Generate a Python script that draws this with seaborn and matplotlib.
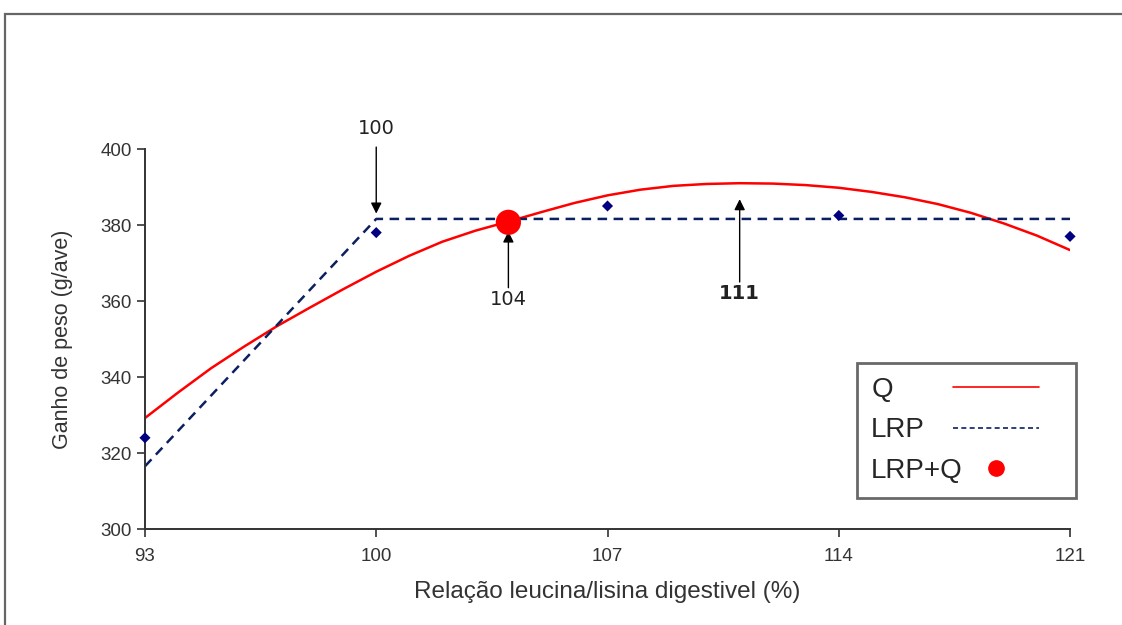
import numpy as np
import pandas as pd
import matplotlib
matplotlib.use("Agg")
import matplotlib.pyplot as plt
from matplotlib.lines import Line2D
from matplotlib.patches import Rectangle
import seaborn as sns

# observed means (diamonds)
obs_x = [93, 100, 107, 114, 121]
obs_y = [324.0, 378.0, 385.0, 382.5, 377.0]

# quadratic fit (Q)
q_x = [93, 94, 95, 96, 97, 98, 99, 100, 101, 102, 103, 104, 105, 106, 107,
       108, 109, 110, 111, 112, 113, 114, 115, 116, 117, 118, 119, 120, 121]
q_y = [329.2, 335.9, 342.3, 348.0, 353.4, 358.3, 363.1, 367.7, 371.9, 375.6,
       378.5, 380.9, 383.4, 385.8, 387.8, 389.3, 390.3, 390.8, 391.0, 390.9,
       390.5, 389.8, 388.7, 387.3, 385.5, 383.2, 380.4, 377.2, 373.4]

# linear response plateau (LRP)
lrp_x = [93, 100, 121]
lrp_y = [316.5, 381.6, 381.6]

# LRP+Q intersection
lq_x = [104]
lq_y = [380.7]

# arrow notes: label, x, tip y, tail y, text y
notes = [("100", 100, 383.0, 400.5, 405.5),
         ("104", 104, 378.3, 363.5, 360.5),
         ("111", 111, 386.8, 365.0, 362.0)]

leg_labels = ["Q", "LRP", "LRP+Q"]

sns.set_theme(style="white")
plt.rcParams["font.family"] = ["Liberation Sans", "DejaVu Sans"]

fig = plt.figure(figsize=(11.22, 6.25), dpi=100)
ax = fig.add_axes([0.1292, 0.1536, 0.8245, 0.608])

# outer frame of the original picture
fig.patches.append(Rectangle((5 / 1122, -0.2), 1.2, 0.2 + 1 - 14 / 625,
                             transform=fig.transFigure, fill=False,
                             edgecolor="#666666", lw=1.6))

navy = "#0a2060"
sns.lineplot(x=q_x, y=q_y, ax=ax, color="red", lw=1.8, label="_q")
sns.lineplot(x=lrp_x, y=lrp_y, ax=ax, color=navy, lw=1.8, label="_lrp",
             sort=False)
ax.lines[-1].set_dashes((3.8, 2.6))
sns.scatterplot(x=obs_x, y=obs_y, ax=ax, marker="D", s=32, color="#000080",
                edgecolor="none", zorder=4, clip_on=False)
sns.scatterplot(x=lq_x, y=lq_y, ax=ax, s=330, color="red", edgecolor="none",
                zorder=5)

for lab, x, tip, tail, ty in notes:
    ax.annotate("", xy=(x, tip), xytext=(x, tail), annotation_clip=False,
                arrowprops=dict(arrowstyle="-|>", color="black", lw=1.0,
                                mutation_scale=16, shrinkA=0, shrinkB=0))
    ax.text(x, ty, lab, ha="center", va="center", fontsize=14,
            family="DejaVu Sans", color="#222222", clip_on=False,
            fontweight="bold" if lab == "111" else "normal")

ax.set_xlim(93, 121)
ax.set_ylim(300, 400)
ax.set_xticks([93, 100, 107, 114, 121])
ax.set_yticks(range(300, 401, 20))
ax.tick_params(axis="both", direction="out", length=6, width=1.2,
               color="#333333", labelsize=13.5, labelcolor="#333333",
               left=True, bottom=True)
ax.tick_params(axis="x", pad=8)
for s in ["top", "right"]:
    ax.spines[s].set_visible(False)
for s in ["left", "bottom"]:
    ax.spines[s].set_color("#333333")
    ax.spines[s].set_linewidth(1.4)

ax.set_xlabel("Relação leucina/lisina digestivel (%)", fontsize=17.5,
              color="#333333", labelpad=11)
ax.set_ylabel("Ganho de peso (g/ave)", fontsize=15.5, color="#333333",
              labelpad=20)

# legend: labels on the left (framed), symbols on the right
legkw = dict(fontsize=20, labelspacing=0.53, borderpad=0.5, borderaxespad=0)
blank = [Line2D([], [], lw=0) for _ in leg_labels]
leg = ax.legend(blank, leg_labels, loc="lower left",
                bbox_to_anchor=(0.770, 0.0816, 0.236, 0.3), mode="expand",
                frameon=True, fancybox=False, handlelength=0,
                handletextpad=0, **legkw)
leg.get_frame().set_edgecolor("#444444")
leg.get_frame().set_linewidth(2)
ax.add_artist(leg)

handles = [Line2D([], [], color="red", lw=1.2),
           Line2D([], [], color=navy, lw=1.2, ls=(0, (3, 2))),
           Line2D([], [], color="red", lw=0, marker="o", markersize=11)]
ax.legend(handles, [" "] * 3, loc="lower right",
          bbox_to_anchor=(0.99, 0.0816), frameon=False, handlelength=3.1,
          handletextpad=0, **legkw)

fig.savefig("out.png", dpi=100)
